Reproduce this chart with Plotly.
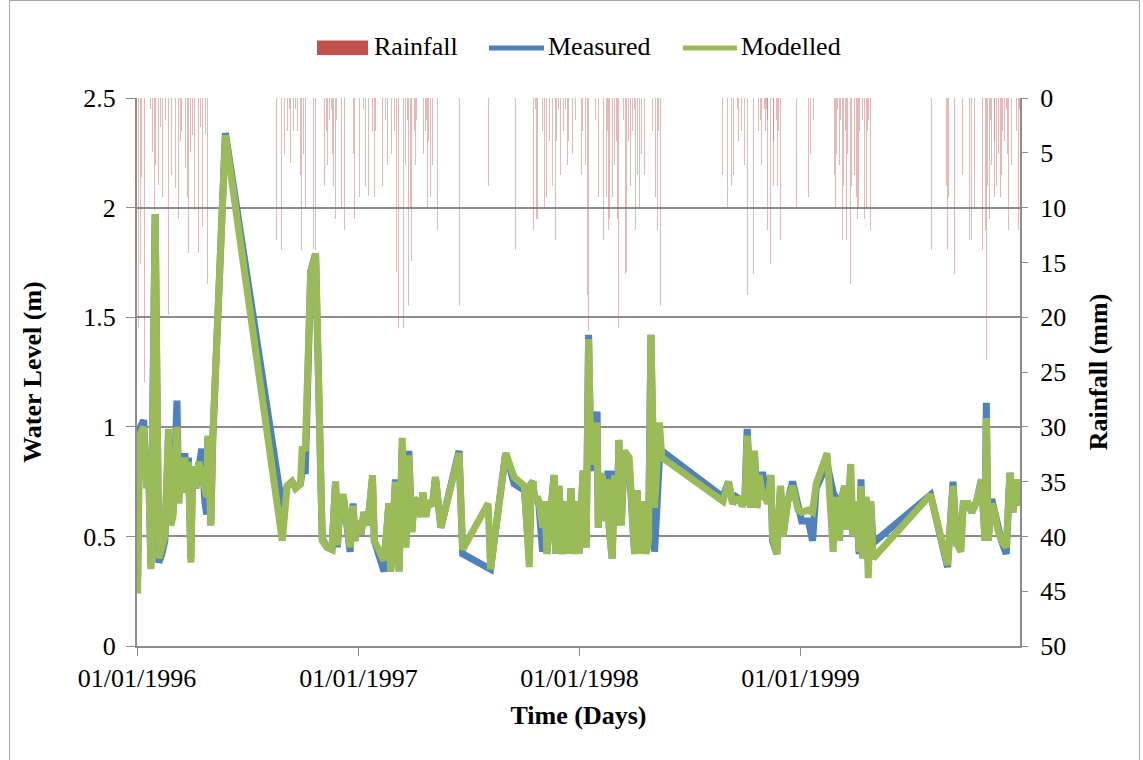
import pandas as pd
import plotly.graph_objects as go

START = pd.Timestamp("1996-01-01")

# Observation days (days since 01/01/1996) with measured and modelled water level (m)
obs_day = [
    1, 4, 11, 16, 19, 23, 30, 36, 41, 46, 52, 56, 60, 66, 69, 72, 75, 79, 82, 85,
    89, 92, 97, 102, 107, 112, 115, 117, 122, 125, 146,
    240, 248, 256, 262, 270, 273, 278, 287, 295, 300, 306, 314, 322, 328, 331, 336,
    341, 352, 357, 360, 364, 370, 375, 381, 389, 392, 408, 416, 419, 427, 433, 438,
    444, 449, 454, 458, 463, 469, 472, 477, 481, 488, 493, 502, 532, 538, 580, 584,
    609, 623, 640, 648, 651, 654, 657, 661, 664, 670, 674, 677, 682, 689, 692, 697,
    703, 708, 712, 717, 722, 727, 730, 734, 737, 742, 746, 750, 753, 760, 762, 765,
    769, 774, 778, 780, 785, 789, 793, 796, 800, 805, 813, 822, 826, 831, 834, 841,
    845, 849, 855, 863, 867,
    968, 977, 984, 990, 995, 1000, 1004, 1008, 1014, 1020, 1024, 1028, 1034, 1038,
    1042, 1047, 1050, 1057, 1063, 1067, 1075, 1083, 1092, 1098, 1109, 1116, 1122,
    1140, 1150, 1154, 1160, 1164, 1169, 1172, 1175, 1179, 1183, 1188, 1193, 1196,
    1199, 1204, 1208, 1212, 1216,
    1311, 1339, 1348, 1354, 1361, 1365, 1373, 1379, 1387, 1395, 1401, 1403, 1406,
    1412, 1417, 1422, 1428, 1436, 1442, 1447, 1453, 1458,
]

measured = [
    0.30, 0.99, 1.03, 0.72, 0.85, 0.36, 1.97, 0.38, 0.42, 0.48, 0.95, 0.58, 0.62, 1.12, 0.66, 0.87, 0.70, 0.88, 0.72, 0.86,
    0.40, 0.82, 0.72, 0.84, 0.90, 0.66, 0.60, 0.95, 0.55, 0.93, 2.34,
    0.63, 0.73, 0.75, 0.72, 0.74, 0.80, 0.80, 1.71, 1.79, 1.30, 0.49, 0.45, 0.44, 0.75, 0.45, 0.66,
    0.68, 0.43, 0.65, 0.48, 0.57, 0.51, 0.61, 0.55, 0.76, 0.48, 0.34, 0.65, 0.34, 0.76, 0.34, 0.90,
    0.45, 0.89, 0.52, 0.67, 0.66, 0.59, 0.70, 0.59, 0.66, 0.64, 0.77, 0.54, 0.89, 0.42, 0.36, 0.35,
    0.88, 0.74, 0.71, 0.40, 0.74, 0.75, 0.66, 0.68, 0.64, 0.43, 0.66, 0.42, 0.57, 0.78, 0.42, 0.73,
    0.42, 0.66, 0.42, 0.72, 0.42, 0.66, 0.42, 0.73, 0.80, 0.45, 1.42, 0.83, 0.80, 1.07, 0.54, 0.78,
    0.77, 0.57, 0.80, 0.54, 0.40, 0.80, 0.55, 0.94, 0.55, 0.87, 0.83, 0.42, 0.71, 0.42, 0.66, 0.43,
    0.48, 1.42, 0.43, 0.85, 0.89,
    0.68, 0.75, 0.65, 0.68, 0.67, 0.64, 0.66, 0.99, 0.63, 0.89, 0.63, 0.78, 0.78, 0.68,
    0.65, 0.78, 0.48, 0.42, 0.73, 0.50, 0.66, 0.75, 0.62, 0.57, 0.57, 0.48, 0.72,
    0.83, 0.70, 0.68, 0.48, 0.67, 0.73, 0.53, 0.66, 0.66, 0.50, 0.66, 0.42, 0.76,
    0.40, 0.68, 0.42, 0.66, 0.47,
    0.69, 0.36, 0.75, 0.47, 0.47, 0.65, 0.65, 0.61, 0.66, 0.76, 0.48, 1.11, 0.48,
    0.67, 0.61, 0.53, 0.48, 0.42, 0.79, 0.61, 0.76, 0.64,
]

modelled = [
    0.24, 0.96, 1.00, 0.72, 0.84, 0.35, 1.97, 0.40, 0.45, 0.50, 0.99, 0.55, 0.60, 1.00, 0.65, 0.86, 0.70, 0.86, 0.72, 0.84,
    0.38, 0.82, 0.72, 0.84, 0.78, 0.70, 0.68, 0.96, 0.55, 0.94, 2.33,
    0.48, 0.73, 0.75, 0.72, 0.74, 0.91, 0.89, 1.71, 1.79, 1.15, 0.48, 0.45, 0.44, 0.75, 0.46, 0.68,
    0.68, 0.45, 0.64, 0.48, 0.57, 0.51, 0.61, 0.55, 0.78, 0.48, 0.39, 0.65, 0.34, 0.75, 0.34, 0.95,
    0.45, 0.87, 0.52, 0.67, 0.66, 0.59, 0.70, 0.59, 0.66, 0.64, 0.77, 0.54, 0.88, 0.44, 0.65, 0.35,
    0.88, 0.77, 0.73, 0.36, 0.74, 0.75, 0.66, 0.68, 0.66, 0.54, 0.66, 0.42, 0.57, 0.78, 0.42, 0.73,
    0.42, 0.66, 0.42, 0.72, 0.42, 0.66, 0.42, 0.73, 0.80, 0.45, 1.40, 0.83, 0.86, 1.02, 0.54, 0.78,
    0.77, 0.57, 0.76, 0.54, 0.40, 0.78, 0.55, 0.94, 0.55, 0.89, 0.86, 0.42, 0.71, 0.42, 0.66, 0.42,
    0.48, 1.42, 0.63, 1.02, 0.86,
    0.66, 0.75, 0.65, 0.67, 0.67, 0.64, 0.66, 0.96, 0.63, 0.89, 0.63, 0.78, 0.68, 0.68,
    0.65, 0.78, 0.50, 0.42, 0.73, 0.50, 0.66, 0.73, 0.62, 0.61, 0.62, 0.61, 0.74,
    0.88, 0.43, 0.68, 0.48, 0.67, 0.73, 0.53, 0.66, 0.83, 0.50, 0.66, 0.43, 0.73,
    0.40, 0.68, 0.31, 0.66, 0.40,
    0.69, 0.37, 0.73, 0.47, 0.43, 0.65, 0.65, 0.61, 0.66, 0.76, 0.48, 1.04, 0.48,
    0.65, 0.61, 0.53, 0.48, 0.45, 0.79, 0.61, 0.76, 0.64,
]

# Daily rainfall events (days since 01/01/1996) and depth (mm)
rain_day = [
    3, 6, 8, 12, 15, 18, 22, 25, 29, 31, 36, 39, 42, 47, 48, 52, 57, 61, 63, 66,
    69, 72, 74, 76, 80, 84, 85, 88, 91, 92, 95, 96, 99, 102, 105, 108, 113, 117, 119, 147,
    230, 239, 244, 249, 252, 254, 258, 262, 265, 270, 272, 275, 278, 289, 291, 295,
    309, 310, 313, 315, 317, 318, 321, 323, 325, 328, 330, 332, 338, 343, 355, 358, 359,
    367, 370, 374, 378, 382, 388, 389, 392, 394, 405, 408, 411, 414, 418, 421, 425,
    429, 432, 436, 440, 441, 444, 447, 449, 452, 454, 456, 458, 460, 462, 464, 466,
    469, 471, 473, 476, 478, 480, 482, 485, 488, 496, 502, 533, 535,
    581, 608, 625, 646, 649, 651, 655, 658, 660, 662, 670, 673, 674, 677, 679, 681,
    684, 686, 689, 691, 693, 696, 699, 702, 704, 708, 711, 713, 717, 719, 724,
    730, 734, 736, 741, 744, 746, 758, 760, 762, 765, 768, 771, 775, 777, 779, 780,
    783, 786, 789, 792, 794, 796, 798, 801, 804, 807, 809, 812, 815, 818, 822, 823,
    826, 827, 830, 833, 836, 838, 841, 844, 846, 849, 852, 856, 860, 862, 865,
    967, 976, 982, 985, 992, 994, 998, 1001, 1004, 1008, 1011, 1016, 1019, 1026, 1027,
    1029, 1030, 1032, 1036, 1038, 1040, 1041, 1042, 1044, 1047, 1051, 1052, 1054, 1056,
    1058, 1060, 1062, 1063, 1082, 1089, 1092,
    1105, 1107, 1109, 1112, 1117, 1125, 1140, 1152, 1154, 1156, 1157, 1160, 1162, 1165,
    1167, 1168, 1170, 1172, 1174, 1176, 1179, 1180, 1183, 1185, 1188, 1190, 1192, 1194,
    1196, 1198, 1202, 1205, 1207, 1208, 1211, 1212, 1214,
    1312, 1337, 1339, 1340, 1350, 1361, 1364, 1375, 1378, 1381, 1383, 1397, 1402, 1403,
    1404, 1405, 1408, 1410, 1412, 1414, 1416, 1417, 1420, 1423, 1426, 1428, 1430, 1433,
    1436, 1438, 1440, 1442, 1445, 1453, 1456, 1458,
]

rain_mm = [
    21.0, 15.1, 7.2, 25.9, 2.6, 13.9, 1.0, 4.9, 10.2, 6.1, 7.9, 2.6, 9.0, 2.0, 6.1, 19.8, 7.0, 1.0, 8.2, 22.0,
    11.0, 3.9, 3.0, 16.1, 6.4, 9.0, 14.1, 4.9, 17.0, 3.4, 10.2, 2.6, 7.2, 14.1, 2.6, 11.8, 3.3, 17.0, 3.0, 43.0,
    13.0, 13.9, 5.1, 3.0, 1.0, 5.9, 3.0, 1.0, 3.0, 7.0, 13.9, 5.1, 10.0, 2.0, 13.8, 13.9,
    3.9, 8.0, 3.0, 6.1, 9.0, 2.0, 1.0, 5.1, 8.0, 11.0, 2.0, 11.0, 10.0, 12.0, 8.0, 5.1, 11.0,
    9.0, 2.6, 1.0, 8.0, 8.9, 12.0, 3.0, 9.0, 3.0, 8.0, 8.0, 2.0, 6.1, 11.0, 5.1, 3.0,
    15.9, 21.0, 3.0, 21.0, 11.0, 6.1, 2.0, 19.0, 10.0, 14.9, 3.9, 3.0, 6.1, 2.0, 7.0, 3.0,
    10.0, 11.0, 5.1, 3.0, 2.0, 10.0, 3.9, 9.0, 6.1, 12.0, 6.1, 19.0, 2.0,
    8.0, 18.0, 13.9, 12.0, 5.1, 3.0, 12.0, 1.0, 11.0, 11.0, 3.0, 10.0, 3.9, 9.0, 2.0, 3.9,
    2.0, 8.0, 1.0, 13.0, 3.9, 1.0, 7.0, 1.0, 3.0, 1.0, 6.1, 3.9, 1.0, 5.1, 2.0,
    6.1, 7.0, 3.0, 6.1, 18.0, 21.3, 2.0, 17.0, 9.0, 2.0, 13.9, 13.0, 9.0, 3.0, 12.0, 11.0,
    5.1, 9.0, 6.1, 3.9, 11.0, 21.0, 7.0, 17.0, 2.0, 16.1, 15.9, 3.9, 8.0, 3.0, 1.0, 12.0,
    9.0, 7.0, 10.0, 5.1, 2.0, 7.0, 3.0, 2.0, 21.3, 1.0, 3.0, 9.0, 12.0, 3.0, 19.0,
    7.0, 10.0, 8.0, 7.0, 1.0, 3.9, 3.0, 1.0, 6.1, 18.0, 3.9, 9.0, 16.1, 7.0, 3.0,
    8.0, 2.0, 6.1, 1.0, 3.0, 1.0, 12.0, 2.0, 3.0, 15.1, 3.9, 8.0, 3.0, 2.0,
    8.0, 3.0, 1.0, 13.0, 13.0, 10.0, 9.0,
    2.0, 2.0, 9.0, 5.1, 2.0, 13.0, 18.0, 7.0, 10.0, 5.1, 1.0, 6.1, 2.0, 13.0,
    8.0, 13.0, 3.0, 13.0, 5.1, 2.0, 17.0, 8.0, 1.0, 7.0, 9.0, 11.0, 10.0, 3.0,
    12.0, 2.0, 11.0, 10.0, 3.0, 2.0, 7.0, 12.0, 7.0,
    13.9, 8.0, 13.9, 9.0, 16.1, 3.9, 7.0, 13.0, 13.0, 10.0, 10.0, 13.9, 12.0, 23.9,
    3.9, 8.0, 11.0, 2.0, 6.1, 1.0, 9.0, 3.9, 8.0, 5.1, 9.0, 7.0, 3.0, 3.9,
    1.0, 5.1, 12.0, 2.0, 6.1, 3.0, 12.0, 1.0,
]

year_ticks = ["1996-01-01", "1997-01-01", "1998-01-01", "1999-01-01"]

assert len(obs_day) == len(measured) == len(modelled)
assert len(rain_day) == len(rain_mm)

obs_date = START + pd.to_timedelta(obs_day, unit="D")
rain_date = START + pd.to_timedelta(rain_day, unit="D")

# Page geometry (pixels) and helpers to place legend items in paper space
W, H = 1143, 760
L, R, T, B = 137, 123, 98, 114
PW, PH = W - L - R, H - T - B


def px(xp):
    return (xp - L) / PW


def py(yp):
    return (H - B - yp) / PH


FONT = "Liberation Serif, Times New Roman, serif"
GRID = "#8C8C8C"
RED, BLUE, GREEN = "#C0504D", "#4F81BD", "#9BBB59"

fig = go.Figure()

fig.add_trace(go.Bar(
    x=rain_date, y=rain_mm, name="Rainfall", yaxis="y",
    width=86400000 * 1.2,
    marker=dict(color="rgba(192,80,77,0.40)", line=dict(width=0)),
    showlegend=False,
))
fig.add_trace(go.Scatter(
    x=obs_date, y=measured, name="Measured", yaxis="y2", mode="lines",
    line=dict(color=BLUE, width=7), showlegend=False,
))
fig.add_trace(go.Scatter(
    x=obs_date, y=modelled, name="Modelled", yaxis="y2", mode="lines",
    line=dict(color=GREEN, width=7), showlegend=False,
))

# Legend row
shapes = [
    dict(type="rect", xref="paper", yref="paper",
         x0=px(317), x1=px(368), y0=py(55), y1=py(40.5),
         fillcolor=RED, line=dict(width=0)),
    dict(type="line", xref="paper", yref="paper",
         x0=px(489), x1=px(544), y0=py(48), y1=py(48),
         line=dict(color=BLUE, width=5)),
    dict(type="line", xref="paper", yref="paper",
         x0=px(683), x1=px(737), y0=py(48), y1=py(48),
         line=dict(color=GREEN, width=5)),
    # chart area frame
    dict(type="rect", xref="paper", yref="paper",
         x0=px(9.5), x1=px(1139.5), y0=py(780), y1=py(0.5),
         line=dict(color="#A6A6A6", width=1), fillcolor="rgba(0,0,0,0)"),
]
annotations = [
    dict(text=t, x=px(xp), y=py(46), xref="paper", yref="paper",
         xanchor="left", yanchor="middle", showarrow=False,
         font=dict(family=FONT, size=26, color="black"))
    for t, xp in [("Rainfall", 372), ("Measured", 546), ("Modelled", 739)]
]

fig.update_layout(
    width=W, height=H,
    margin=dict(l=L, r=R, t=T, b=B),
    paper_bgcolor="white", plot_bgcolor="white",
    font=dict(family=FONT, size=26, color="black"),
    bargap=0,
    shapes=shapes,
    annotations=annotations,
    xaxis=dict(
        type="date",
        range=["1996-01-01", "1999-12-29 16:00"],
        tickvals=year_ticks, tickformat="%d/%m/%Y",
        ticks="outside", ticklen=8, tickcolor=GRID, tickwidth=1,
        showline=True, linecolor=GRID, linewidth=2,
        showgrid=False, zeroline=False,
        title=dict(text="Time (Days)", font=dict(family=FONT, size=26, weight="bold"), standoff=14),
    ),
    yaxis=dict(
        side="right", range=[50, 0], dtick=5, tick0=0,
        ticks="outside", ticklen=6, tickcolor=GRID, tickwidth=1,
        ticklabelstandoff=7,
        showline=True, linecolor=GRID, linewidth=2,
        showgrid=False, zeroline=False,
        title=dict(text="Rainfall (mm)", font=dict(family=FONT, size=26, weight="bold"), standoff=24),
    ),
    yaxis2=dict(
        overlaying="y", side="left", range=[0, 2.5], dtick=0.5, tick0=0,
        ticks="outside", ticklen=9, tickcolor=GRID, tickwidth=1,
        ticklabelstandoff=5,
        showline=True, linecolor=GRID, linewidth=2,
        showgrid=True, gridcolor=GRID, gridwidth=2, zeroline=False,
        title=dict(text="Water Level (m)", font=dict(family=FONT, size=26, weight="bold"), standoff=34),
    ),
)

fig.write_html("out.html")
